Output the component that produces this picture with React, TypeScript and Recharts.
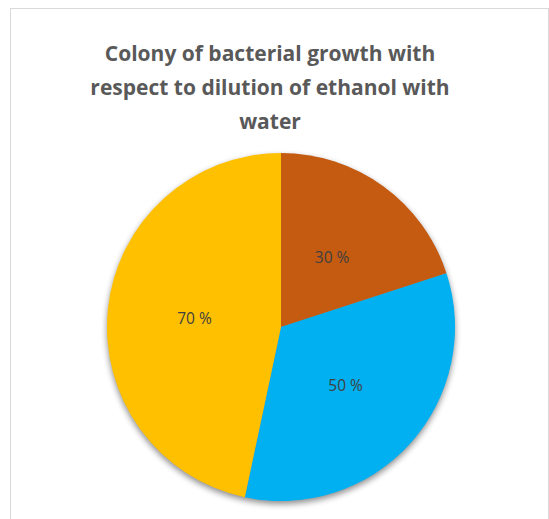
import { PieChart, Pie, Cell } from 'recharts';

const categories = ['Dilution A', 'Dilution B', 'Dilution C'];
const colonyValues = [30, 50, 70];
const sliceLabels = ['30 %', '50 %', '70 %'];
const sliceColors = ['#C55A11', '#00B0F0', '#FFC000'];

const titleLines = [
    'Colony of bacterial growth with',
    'respect to dilution of ethanol with',
    'water',
];

const data = categories.map((name, i) => ({
    name,
    value: colonyValues[i],
    label: sliceLabels[i],
}));

const RADIAN = Math.PI / 180;

const renderLabel = (props: any) => {
    const { cx, cy, midAngle, outerRadius, index } = props;
    const angle = midAngle * RADIAN;
    const r = outerRadius * 0.5;
    const x = cx + r * Math.cos(angle);
    const y = cy - r * Math.sin(angle);
    return (
        <text
            x={x}
            y={y}
            fill="#404040"
            fontSize={15.5}
            fontFamily="'Open Sans', sans-serif"
            textAnchor="middle"
            dominantBaseline="central"
        >
            {data[index].label}
        </text>
    );
};

const W = 549;
const H = 519;
// recharts adds the 5px default margin to cx/cy
const CX = 276;
const CY = 322;
const R = 174;

const App = () => {
    return (
        <div style={{ position: 'absolute', left: 0, top: 0, width: W, height: H, background: '#fff', overflow: 'hidden' }}>
            {/* chart frame */}
            <div
                style={{
                    position: 'absolute',
                    left: 10,
                    top: 8,
                    width: 537,
                    height: 540,
                    border: '1px solid #d9d9d9',
                }}
            />

            {/* Title */}
            <div
                style={{
                    position: 'absolute',
                    left: 0,
                    top: 36,
                    width: 540,
                    textAlign: 'center',
                    fontFamily: "'Open Sans', sans-serif",
                    fontWeight: 700,
                    fontSize: 21,
                    lineHeight: '34px',
                    color: '#595959',
                }}
            >
                {titleLines.map((t) => (
                    <div key={t}>{t}</div>
                ))}
            </div>

            {/* shadow */}
            <div style={{ position: 'absolute', left: 0, top: 3, filter: 'blur(3px)', opacity: 0.45 }}>
                <PieChart width={W} height={H}>
                    <Pie
                        data={data}
                        dataKey="value"
                        cx={CX}
                        cy={CY}
                        outerRadius={R}
                        startAngle={90}
                        endAngle={-270}
                        stroke="none"
                        fill="#000"
                        isAnimationActive={false}
                    />
                </PieChart>
            </div>

            <div style={{ position: 'absolute', left: 0, top: 0 }}>
                <PieChart width={W} height={H}>
                    <Pie
                        data={data}
                        dataKey="value"
                        nameKey="name"
                        cx={CX}
                        cy={CY}
                        outerRadius={R}
                        startAngle={90}
                        endAngle={-270}
                        stroke="none"
                        label={renderLabel}
                        labelLine={false}
                        isAnimationActive={false}
                    >
                        {data.map((d, i) => (
                            <Cell key={d.name} fill={sliceColors[i]} />
                        ))}
                    </Pie>
                </PieChart>
            </div>
        </div>
    );
};

export default App;
